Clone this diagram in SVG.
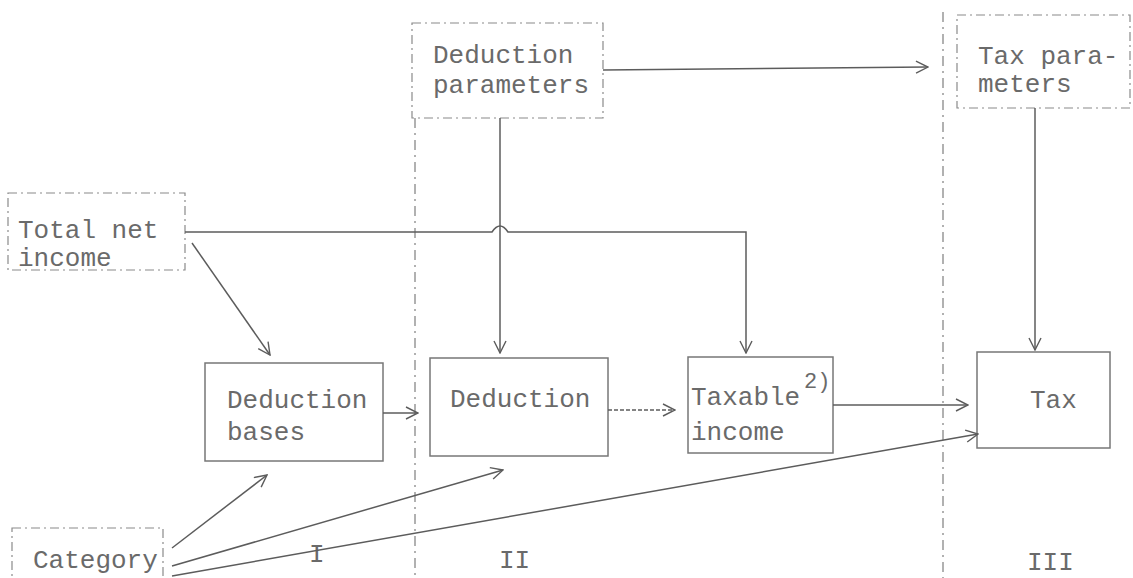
<svg xmlns="http://www.w3.org/2000/svg" width="1133" height="578" viewBox="0 0 1133 578">
  <style>
    .txt { font-family: "Liberation Mono", "DejaVu Sans Mono", monospace; font-size: 26px; fill: #6a6a6a; }
    .sup { font-family: "Liberation Mono", "DejaVu Sans Mono", monospace; font-size: 22px; fill: #6a6a6a; }
    .dashbox { fill: none; stroke: #8a8a8a; stroke-width: 1.2; stroke-dasharray: 9 4 2 4; }
    .box { fill: none; stroke: #777; stroke-width: 1.5; }
    .sep { fill: none; stroke: #888; stroke-width: 1.3; stroke-dasharray: 10 5 2 5; }
    .conn { fill: none; stroke: #5c5c5c; stroke-width: 1.5; }
    .dotted { stroke-dasharray: 4 2; }
  </style>
  <defs>
    <marker id="open" viewBox="0 0 14 14" refX="13" refY="7" markerWidth="14" markerHeight="14" markerUnits="userSpaceOnUse" orient="auto">
      <path d="M1,1 L13,7 L1,13" fill="none" stroke="#5c5c5c" stroke-width="1.4"/>
    </marker>
  </defs>
  <rect width="1133" height="578" fill="#ffffff"/>

  <!-- column separators -->
  <g id="separators">
    <line class="sep" x1="415" y1="118" x2="415" y2="578"/>
    <line class="sep" x1="943" y1="12" x2="943" y2="578"/>
  </g>

  <!-- column labels -->
  <g id="labels">
    <text class="txt" x="309" y="562">I</text>
    <text class="txt" x="499" y="568">II</text>
    <text class="txt" x="1027" y="570">III</text>
  </g>

  <g id="deduction-parameters">
    <rect class="dashbox" x="412" y="23" width="191" height="95"/>
    <text class="txt" x="433" y="63">Deduction</text>
    <text class="txt" x="433" y="93">parameters</text>
  </g>

  <g id="tax-parameters">
    <rect class="dashbox" x="957" y="15" width="173" height="93"/>
    <text class="txt" x="978" y="64">Tax para-</text>
    <text class="txt" x="978" y="92">meters</text>
  </g>

  <g id="total-net-income">
    <rect class="dashbox" x="8" y="193" width="177" height="77"/>
    <text class="txt" x="18" y="238">Total net</text>
    <text class="txt" x="18" y="266">income</text>
  </g>

  <g id="category">
    <rect class="dashbox" x="12" y="528" width="151" height="60"/>
    <text class="txt" x="33" y="568">Category</text>
  </g>

  <g id="deduction-bases">
    <rect class="box" x="205" y="363" width="178" height="98"/>
    <text class="txt" x="227" y="408">Deduction</text>
    <text class="txt" x="227" y="440">bases</text>
  </g>

  <g id="deduction">
    <rect class="box" x="430" y="358" width="178" height="98"/>
    <text class="txt" x="450" y="407">Deduction</text>
  </g>

  <g id="taxable-income">
    <rect class="box" x="688" y="357" width="145" height="96"/>
    <text class="txt" x="691" y="405">Taxable</text>
    <text class="sup" x="804" y="388">2)</text>
    <text class="txt" x="691" y="440">income</text>
  </g>

  <g id="tax">
    <rect class="box" x="977" y="352" width="133" height="96"/>
    <text class="txt" x="1030" y="408">Tax</text>
  </g>

  <g id="connectors">
    <!-- parameters -->
    <line class="conn" x1="603" y1="70" x2="928" y2="67" marker-end="url(#open)"/>
    <line class="conn" x1="500" y1="118" x2="500" y2="353" marker-end="url(#open)"/>
    <line class="conn" x1="1035" y1="108" x2="1035" y2="350" marker-end="url(#open)"/>
    <!-- total net income, hopping over the vertical deduction line -->
    <path class="conn" d="M185,232 H492 Q500,220 508,232 H746 V353" marker-end="url(#open)"/>
    <line class="conn" x1="192" y1="243" x2="270" y2="355" marker-end="url(#open)"/>
    <!-- main flow -->
    <line class="conn" x1="383" y1="413" x2="418" y2="413" marker-end="url(#open)"/>
    <line class="conn dotted" x1="608" y1="410" x2="675" y2="410" marker-end="url(#open)"/>
    <line class="conn" x1="833" y1="405" x2="968" y2="405" marker-end="url(#open)"/>
    <!-- category -->
    <line class="conn" x1="172" y1="548" x2="267" y2="475" marker-end="url(#open)"/>
    <line class="conn" x1="172" y1="566" x2="503" y2="470" marker-end="url(#open)"/>
    <line class="conn" x1="172" y1="576" x2="978" y2="434" marker-end="url(#open)"/>
  </g>
</svg>
